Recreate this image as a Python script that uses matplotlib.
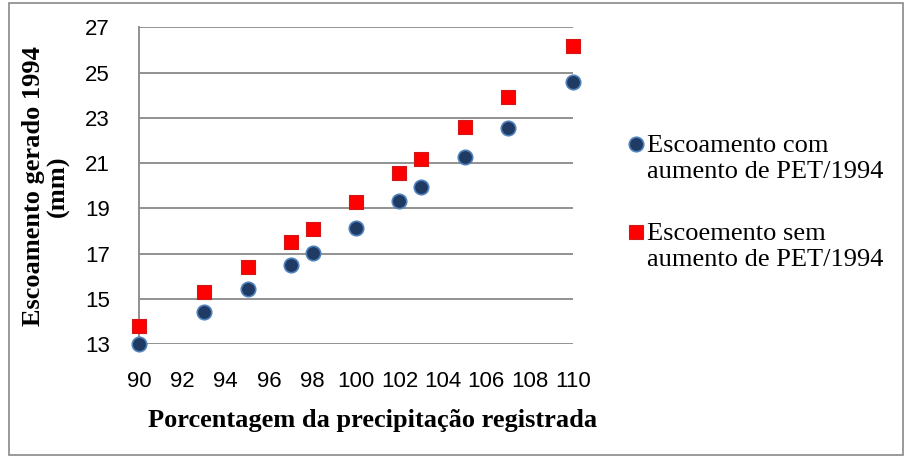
import matplotlib
matplotlib.use("Agg")
import matplotlib.pyplot as plt
from matplotlib.lines import Line2D
from matplotlib.patches import Rectangle

# dados
precip = [90, 93, 95, 97, 98, 100, 102, 103, 105, 107, 110]
com_pet = [13.0, 14.43, 15.43, 16.50, 17.05, 18.15, 19.34, 19.93, 21.26, 22.54, 24.60]
sem_pet = [13.81, 15.32, 16.40, 17.53, 18.08, 19.29, 20.57, 21.18, 22.58, 23.94, 26.17]
x_ticks = list(range(90, 111, 2))
y_ticks = list(range(13, 28, 2))
nome_com = "Escoamento com\naumento de PET/1994"
nome_sem = "Escoemento sem\naumento de PET/1994"

W, H = 907, 458
fig = plt.figure(figsize=(W / 100, H / 100), dpi=100)
ax = fig.add_axes([139 / W, 1 - 344.3 / H, 434 / W, 317 / H])

estilo_com = dict(marker="o", color="#1F3B63", edgecolors="#4F81BD", linewidths=1.2)
estilo_sem = dict(marker="s", color="#FF0000", edgecolors="#D01818", linewidths=0.8)
ax.scatter(precip, com_pet, s=108, zorder=3, clip_on=False, **estilo_com)
ax.scatter(precip, sem_pet, s=100, zorder=3, clip_on=False, **estilo_sem)

ax.set_xlim(90, 110)
ax.set_ylim(13, 27)
ax.set_xticks(x_ticks)
ax.set_yticks(y_ticks)
ax.grid(axis="y", color="#898989", linewidth=1.3)
ax.set_axisbelow(True)
for s in ["top", "right", "bottom"]:
    ax.spines[s].set_visible(False)
ax.spines["left"].set_color("#898989")
ax.spines["left"].set_linewidth(1.3)
ax.tick_params(length=0, labelsize=16)
ax.tick_params(axis="x", pad=19)
ax.tick_params(axis="y", pad=21)
for lab in ax.get_xticklabels() + ax.get_yticklabels():
    lab.set_fontfamily("Liberation Sans")

serif = "Liberation Serif"
fig.text(46 / W, 1 - 186 / H, "Escoamento gerado 1994\n(mm)", rotation=90,
         ha="center", va="center", family=serif, fontweight="bold",
         fontsize=19, linespacing=1.05)
fig.text(373 / W, 1 - 420 / H, "Porcentagem da precipitação registrada",
         ha="center", va="center", family=serif, fontweight="bold", fontsize=19)

# legenda ao estilo do Excel: marcador alinhado com a primeira linha
for nome, estilo, tam, y0 in [(nome_com, estilo_com, 10.4, 144), (nome_sem, estilo_sem, 10.0, 232)]:
    m = Line2D([636 / W], [1 - y0 / H], transform=fig.transFigure,
               marker=estilo["marker"], markersize=tam, linestyle="none",
               markerfacecolor=estilo["color"], markeredgecolor=estilo["edgecolors"],
               markeredgewidth=estilo["linewidths"])
    fig.add_artist(m)
    fig.text(647 / W, 1 - (y0 - 9) / H, nome, ha="left", va="top",
             family=serif, fontsize=19, linespacing=1.22)

fig.add_artist(Rectangle((9 / W, 3 / H), 894 / W, 452 / H, transform=fig.transFigure,
                         fill=False, edgecolor="#898989", linewidth=1.2))

fig.savefig("out.png", dpi=100)
